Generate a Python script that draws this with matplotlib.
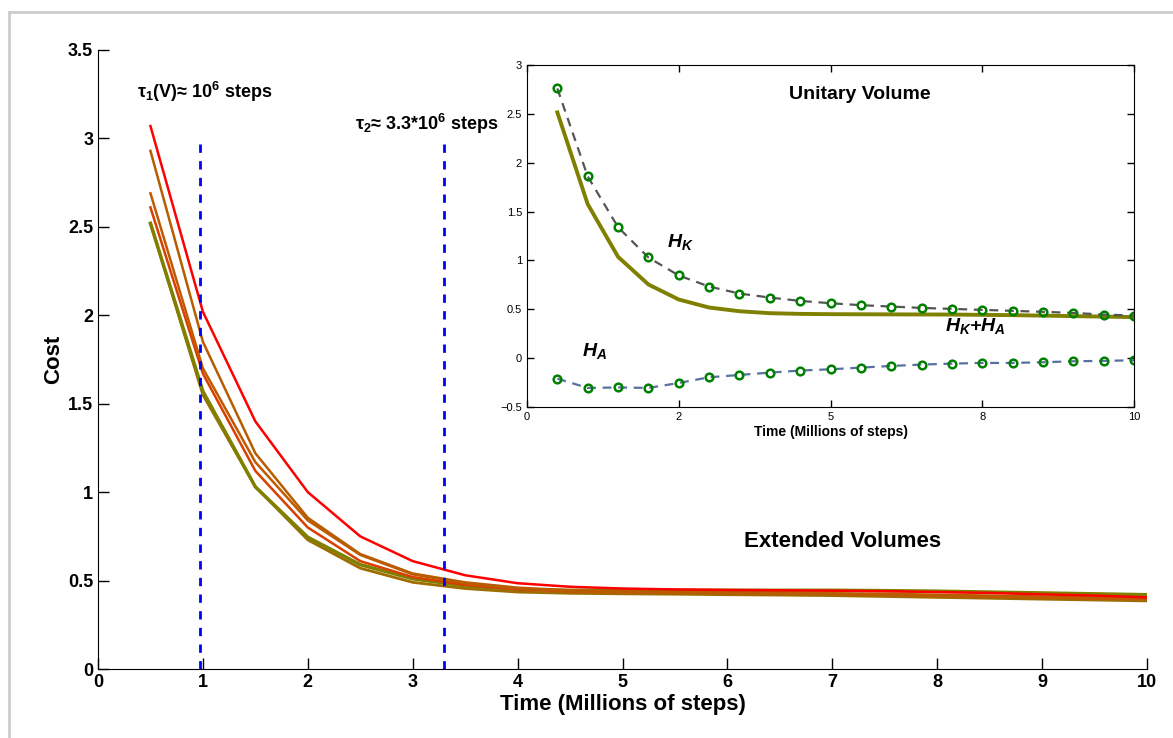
import numpy as np
import matplotlib
matplotlib.use('Agg')
import matplotlib.pyplot as plt
from matplotlib.lines import Line2D

plt.rcParams['font.family'] = ['Liberation Sans', 'DejaVu Sans']
plt.rcParams['mathtext.fontset'] = 'custom'
plt.rcParams['mathtext.rm'] = 'Liberation Sans:bold'
plt.rcParams['mathtext.bf'] = 'Liberation Sans:bold'
plt.rcParams['mathtext.it'] = 'Liberation Sans:bold:italic'

# main plot data (time in millions of steps)
t = [0.5, 1.0, 1.5, 2.0, 2.5, 3.0, 3.5, 4.0, 4.5, 5.0,
     5.5, 6.0, 6.5, 7.0, 7.5, 8.0, 8.5, 9.0, 9.5, 10.0]
cost_red = [3.07, 2.02, 1.40, 1.00, 0.75, 0.61, 0.53, 0.485, 0.465, 0.455,
            0.45, 0.447, 0.445, 0.443, 0.44, 0.435, 0.43, 0.422, 0.415, 0.405]
cost_brown1 = [2.93, 1.85, 1.22, 0.855, 0.65, 0.54, 0.49, 0.46, 0.445, 0.44,
               0.435, 0.433, 0.43, 0.428, 0.425, 0.42, 0.415, 0.41, 0.405, 0.40]
cost_brown2 = [2.69, 1.70, 1.17, 0.84, 0.645, 0.535, 0.485, 0.455, 0.44, 0.435,
               0.432, 0.43, 0.428, 0.425, 0.42, 0.415, 0.41, 0.405, 0.40, 0.395]
cost_redorange = [2.61, 1.67, 1.12, 0.80, 0.61, 0.52, 0.475, 0.45, 0.44, 0.435,
                  0.433, 0.43, 0.428, 0.425, 0.42, 0.415, 0.41, 0.405, 0.40, 0.398]
cost_olive = [2.52, 1.57, 1.03, 0.745, 0.59, 0.51, 0.47, 0.45, 0.445, 0.445,
              0.445, 0.445, 0.445, 0.445, 0.443, 0.44, 0.435, 0.43, 0.425, 0.42]
cost_gold = [2.52, 1.55, 1.03, 0.73, 0.57, 0.49, 0.455, 0.435, 0.428, 0.425,
             0.423, 0.42, 0.418, 0.415, 0.41, 0.405, 0.40, 0.395, 0.39, 0.385]

tau1 = 0.97
tau2 = 3.3

# inset data (unitary volume)
hk = [2.76, 1.86, 1.34, 1.03, 0.846, 0.733, 0.661, 0.62, 0.586, 0.562,
      0.542, 0.528, 0.514, 0.504, 0.494, 0.484, 0.474, 0.463, 0.446, 0.436]
ha = [-0.21, -0.305, -0.30, -0.305, -0.254, -0.196, -0.172, -0.148, -0.127, -0.114,
      -0.097, -0.08, -0.066, -0.056, -0.049, -0.049, -0.042, -0.032, -0.028, -0.022]
hk_ha = [2.515, 1.576, 1.037, 0.754, 0.60, 0.518, 0.48, 0.46, 0.453, 0.45,
         0.449, 0.448, 0.447, 0.446, 0.443, 0.44, 0.435, 0.43, 0.425, 0.42]

fig = plt.figure(figsize=(11.73, 7.38), dpi=100)

# light gray frame around the picture
fig.add_artist(Line2D([9/1173, 1], [1-12/738, 1-12/738], color='#cccccc', lw=2))
fig.add_artist(Line2D([9/1173, 9/1173], [0, 1-12/738], color='#cccccc', lw=2))

ax = fig.add_axes([98/1173, 1-669/738, (1147-98)/1173, (669-50)/738])
ax.plot(t, cost_gold, color='#a06c00', lw=2)
ax.plot(t, cost_olive, color='#808000', lw=2.5)
ax.plot(t, cost_redorange, color='#d84000', lw=1.8)
ax.plot(t, cost_brown2, color='#c05a00', lw=1.8)
ax.plot(t, cost_brown1, color='#b85c00', lw=1.8)
ax.plot(t, cost_red, color='#ff0000', lw=1.8)
ax.plot([tau1, tau1], [0, 3.0], color='#0000ff', lw=2, ls=(0, (3, 3)))
ax.plot([tau2, tau2], [0, 3.0], color='#0000ff', lw=2, ls=(0, (3, 3)))

ax.set_xlim(0, 10)
ax.set_ylim(0, 3.5)
ax.set_xticks(range(0, 11))
ax.set_yticks(np.arange(0, 3.51, 0.5))
ax.set_yticklabels(['0', '0.5', '1', '1.5', '2', '2.5', '3', '3.5'])
ax.tick_params(direction='in', length=8, width=1, labelsize=13)
for lab in ax.get_xticklabels() + ax.get_yticklabels():
    lab.set_fontweight('bold')
ax.spines['top'].set_visible(False)
ax.spines['right'].set_visible(False)
ax.set_xlabel('Time (Millions of steps)', fontsize=16, fontweight='bold', labelpad=2)
ax.set_ylabel('Cost', fontsize=16, fontweight='bold', labelpad=3)

ax.text(0.37, 3.26, 'τ$_{1}$(V)≈ 10$^{6}$ steps', fontsize=13, fontweight='bold', va='center')
ax.text(2.45, 3.08, 'τ$_{2}$≈ 3.3*10$^{6}$ steps', fontsize=13, fontweight='bold', va='center')
ax.text(7.1, 0.72, 'Extended Volumes', fontsize=16, fontweight='bold', ha='center', va='center')

# inset
axi = fig.add_axes([527/1173, 1-407/738, (1134-527)/1173, (407-65)/738])
axi.plot(t, hk_ha, color='#808000', lw=2.8)
axi.plot(t, hk, color='#555555', lw=1.6, ls=(0, (4, 3)))
axi.plot(t, ha, color='#5870a0', lw=1.6, ls=(0, (4, 3)))
axi.plot(t, hk, ls='none', marker='o', ms=5.5, mfc='none', mec='#008000', mew=1.8)
axi.plot(t, ha, ls='none', marker='o', ms=5.5, mfc='none', mec='#008000', mew=1.8)
axi.set_xlim(0, 10)
axi.set_ylim(-0.5, 3)
axi.set_xticks([0, 2.5, 5, 7.5, 10])
axi.set_xticklabels(['0', '2', '5', '8', '10'])
axi.set_yticks(np.arange(-0.5, 3.01, 0.5))
axi.set_yticklabels(['−0.5', '0', '0.5', '1', '1.5', '2', '2.5', '3'])
axi.tick_params(direction='in', length=5, width=1, labelsize=8, top=True, right=True)
axi.set_xlabel('Time (Millions of steps)', fontsize=10, fontweight='bold', labelpad=2)
axi.text(5.49, 2.70, 'Unitary Volume', fontsize=14, fontweight='bold', ha='center', va='center')
axi.text(2.3, 1.19, '$H_K$', fontsize=14, va='center')
axi.text(0.9, 0.07, '$H_A$', fontsize=14, va='center')
axi.text(7.38, 0.33, '$H_K$+$H_A$', fontsize=14, fontweight='bold', style='italic',
         ha='center', va='center')

plt.savefig('out.png', dpi=100)
